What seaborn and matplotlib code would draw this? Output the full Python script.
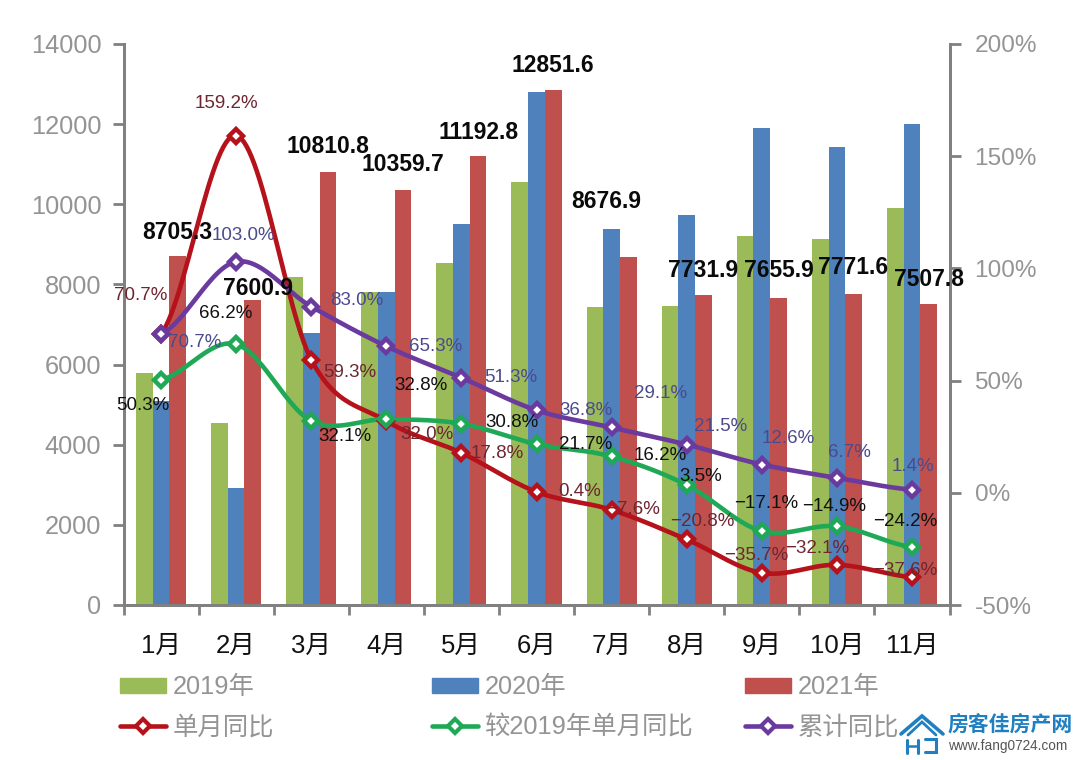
import numpy as np
import pandas as pd
import matplotlib
matplotlib.use("Agg")
import matplotlib.pyplot as plt
from matplotlib.lines import Line2D
from matplotlib.patches import Patch
import seaborn as sns

# Chart values
months = ['1月', '2月', '3月', '4月', '5月', '6月', '7月', '8月', '9月', '10月', '11月']
sales_2019 = [5780, 4550, 8180, 7800, 8530, 10560, 7440, 7470, 9220, 9140, 9900]
sales_2020 = [5100, 2920, 6780, 7820, 9500, 12790, 9380, 9740, 11900, 11430, 12010]
sales_2021 = [8705.3, 7600.9, 10810.8, 10359.7, 11192.8, 12851.6, 8676.9, 7731.9, 7655.9, 7771.6, 7507.8]
yoy_month = [70.7, 159.2, 59.3, 32.0, 17.8, 0.4, -7.6, -20.8, -35.7, -32.1, -37.6]
vs_2019 = [50.3, 66.2, 32.1, 32.8, 30.8, 21.7, 16.2, 3.5, -17.1, -14.9, -24.2]
yoy_total = [70.7, 103.0, 83.0, 65.3, 51.3, 36.8, 29.1, 21.5, 12.6, 6.7, 1.4]
left_ticks = [0, 2000, 4000, 6000, 8000, 10000, 12000, 14000]
right_ticks = [-50, 0, 50, 100, 150, 200]

# Label offsets from the mark, in pixels
off_2021 = [(0, 24), (5, 12), (0, 25), (0, 25), (0, 24), (0, 25), (-22, 56), (0, 25), (0, 28), (0, 26), (0, 25)]
off_red = [(-20, 39), (-10, 32), (39, -13), (41, -14), (36, -1), (43, 0), (21, 0), (16, 18), (-6, 17), (-20, 16), (-7, 7)]
off_green = [(-18, -26), (-10, 31), (34, -16), (35, 34), (51, 1), (49, 0), (49, 1), (14, 8), (4, 28), (-3, 20), (-7, 26)]
off_purple = [(34, -8), (7, 26), (46, 6), (49, 0), (49, 0), (49, 0), (49, 34), (34, 18), (26, 26), (13, 25), (1, 23)]

GREEN, BLUE, RED = '#9bbb59', '#4f81bd', '#c0504d'
LINE_RED, LINE_GREEN, LINE_PURPLE = '#b5121b', '#1fa855', '#6a3a9e'
GRAY = '#949494'
SPINE = '#808080'

sns.set_theme(style='white')
plt.rcParams['font.family'] = ['Liberation Sans', 'Noto Sans CJK SC', 'DejaVu Sans']

W, H = 1080, 760
fig = plt.figure(figsize=(W / 100, H / 100), dpi=100, facecolor='white')
ax = fig.add_axes([123.5 / W, (H - 605) / H, 826 / W, 561 / H])

# Bars
bars = pd.DataFrame({'month': months * 3,
                     'value': sales_2019 + sales_2020 + sales_2021,
                     'year': ['2019年'] * 11 + ['2020年'] * 11 + ['2021年'] * 11})
sns.barplot(data=bars, x='month', y='value', hue='year', palette=[GREEN, BLUE, RED],
            width=0.667, gap=0, saturation=1, legend=False, linewidth=0, edgecolor='none', ax=ax)
ax.set_xlim(-0.5, 10.5)
ax.set_ylim(0, 14000)
ax.set_xlabel('')
ax.set_ylabel('')

# Axes: tick marks between the months, month names in the middle
ax.set_xticks(np.arange(-0.5, 11, 1))
ax.set_xticklabels([])
ax.set_xticks(np.arange(11), months, minor=True)
ax.tick_params(axis='x', which='major', bottom=True, length=7, width=2, color=SPINE)
ax.tick_params(axis='x', which='minor', bottom=False, length=0, labelsize=18.5, labelcolor='#111111', pad=21)
ax.set_yticks(left_ticks)
ax.tick_params(axis='y', left=True, length=8, width=2, color=SPINE, labelsize=18.3, labelcolor=GRAY, pad=8)

ax2 = ax.twinx()
ax2.set_ylim(-50, 200)
ax2.set_yticks(right_ticks)
ax2.set_yticklabels([f'{t}%' for t in right_ticks])
ax2.tick_params(axis='y', right=True, length=8, width=2, color=SPINE, labelsize=17.6, labelcolor=GRAY, pad=10)
ax2.set_ylabel('')
ax2.grid(False)
ax.grid(False)
for a in (ax, ax2):
    a.spines['top'].set_visible(False)
    for side in ('left', 'right', 'bottom'):
        a.spines[side].set_color(SPINE)
        a.spines[side].set_linewidth(2)


# Same kind of smoothing as a spreadsheet "smooth line"
def smooth(values, n=30):
    y = np.array(values, dtype=float)
    xs, ys = [], []
    for i in range(len(y) - 1):
        p0 = y[max(i - 1, 0)]
        p3 = y[min(i + 2, len(y) - 1)]
        c1 = y[i] + (y[i + 1] - p0) / 6
        c2 = y[i + 1] - (p3 - y[i]) / 6
        t = np.linspace(0, 1, n)
        ys.extend((1 - t) ** 3 * y[i] + 3 * (1 - t) ** 2 * t * c1 + 3 * (1 - t) * t ** 2 * c2 + t ** 3 * y[i + 1])
        xs.extend(i + t)
    return pd.DataFrame({'x': xs, 'y': ys})


xpos = np.arange(11)
for values, color in ((yoy_month, LINE_RED), (vs_2019, LINE_GREEN), (yoy_total, LINE_PURPLE)):
    curve = smooth(values)
    sns.lineplot(data=curve, x='x', y='y', color=color, linewidth=3.3, sort=False,
                 errorbar=None, estimator=None, ax=ax2, zorder=3)
    ax2.plot(xpos, values, ls='none', marker='D', ms=7, mfc='white', mec=color, mew=3.2, zorder=4)
ax2.set_xlabel('')
ax2.set_ylabel('')
ax2.set_xlim(-0.5, 10.5)
ax2.set_ylim(-50, 200)


def pct(v):
    return f'{v:.1f}%'.replace('-', '−')


def label(axis, x, y, text, off, **kw):
    axis.annotate(text, (x, y), xytext=(off[0] * 0.72, off[1] * 0.72), textcoords='offset points',
                  ha='center', va='center', zorder=6, annotation_clip=False, **kw)


for i in range(11):
    label(ax2, i + 0.222, sales_2021[i] / 14000 * 250 - 50, f'{sales_2021[i]:.1f}', off_2021[i],
          fontsize=16.5, fontweight='bold', color='#0a0a0a')
    label(ax2, i, yoy_month[i], pct(yoy_month[i]), off_red[i], fontsize=13.5, color='#6e2630')
    label(ax2, i, vs_2019[i], pct(vs_2019[i]), off_green[i], fontsize=13.5, color='#111111')
    label(ax2, i, yoy_total[i], pct(yoy_total[i]), off_purple[i], fontsize=13.5, color='#4b4a8e')


# Legend, one block per column
def line_handle(color):
    return Line2D([], [], color=color, lw=3.3, marker='D', ms=7, mfc='white', mec=color, mew=3)


columns = [(110, Patch(color=GREEN), '2019年', line_handle(LINE_RED), '单月同比'),
           (422, Patch(color=BLUE), '2020年', line_handle(LINE_GREEN), '较2019年单月同比'),
           (735, Patch(color=RED), '2021年', line_handle(LINE_PURPLE), '累计同比')]
for left, bar_h, bar_t, line_h, line_t in columns:
    fig.legend([bar_h, line_h], [bar_t, line_t], loc='upper left', bbox_to_anchor=(left / W, 1 - 665 / H),
               frameon=False, fontsize=18.3, labelcolor=GRAY, handlelength=1.8, handleheight=0.55,
               handletextpad=0.27, labelspacing=0.63, borderpad=0, borderaxespad=0.4)


# Watermark in the bottom right corner
def px_line(xs, ys, lw):
    fig.add_artist(Line2D([x / W for x in xs], [1 - y / H for y in ys], color='#1f7fc0', lw=lw,
                          solid_joinstyle='miter'))


px_line([901, 922, 943], [734, 716, 734], 2.6)
px_line([908, 922, 936], [735, 722, 735], 2.0)
px_line([907, 907], [740, 753], 2.2)
px_line([907, 918], [746, 746], 1.8)
px_line([918, 918], [740, 753], 2.2)
px_line([925, 936, 936, 925], [739, 739, 752, 752], 2.2)
fig.text(948 / W, 1 - 725 / H, '房客佳房产网', color='#1f7fc0', fontsize=15, fontweight='bold',
         family=['Noto Sans CJK SC', 'DejaVu Sans'], ha='left', va='center')
fig.text(948 / W, 1 - 746 / H, 'www.fang0724.com', color='#555555', fontsize=9.8, ha='left', va='center')

fig.savefig('out.png', dpi=100, facecolor='white')
